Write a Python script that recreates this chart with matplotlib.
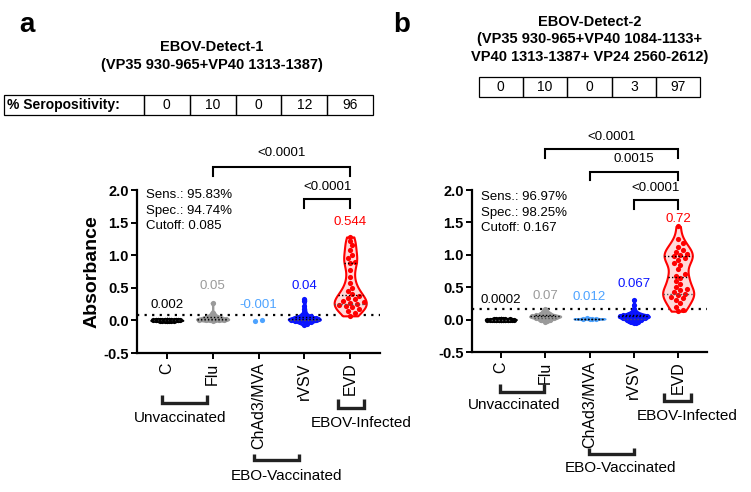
import numpy as np
import matplotlib
matplotlib.use("Agg")
import matplotlib.pyplot as plt
from matplotlib.lines import Line2D
from matplotlib.patches import Rectangle
from matplotlib.mlab import GaussianKDE

plt.rcParams['font.family'] = ['Liberation Sans', 'DejaVu Sans']

# ---------------- data ----------------
categories = ["C", "Flu", "ChAd3/MVA", "rVSV", "EVD"]
colors = ["#000000", "#9a9a9a", "#4da3ff", "#0a14ff", "#ff0000"]
fills = ["#555555", "#d0d0d0", "#bfe0ff", "#b8bcff", "#ffd9d9"]

a_C = [0.012, 0.009, 0.007, 0.006, 0.005, 0.004, 0.004, 0.003, 0.003, 0.002, 0.002, 0.002,
       0.001, 0.001, 0.001, 0.0, 0.0, 0.0, 0.0, -0.001, -0.001, -0.002, -0.002, -0.003,
       -0.004, -0.005, -0.006, -0.008, 0.003, 0.001, -0.001, 0.002, 0.0, -0.003]
a_Flu = [0.27, 0.12, 0.09, 0.07, 0.06, 0.05, 0.04, 0.03, 0.03, 0.02, 0.02, 0.01, 0.01,
         0.0, 0.0, -0.01, 0.01, 0.0, 0.02, 0.04]
a_ChAd = [-0.002, 0.0]
a_rVSV = [0.33, 0.29, 0.22, 0.17, 0.13, 0.1, 0.08, 0.07, 0.06, 0.05, 0.05, 0.04, 0.04,
          0.03, 0.03, 0.02, 0.02, 0.02, 0.01, 0.01, 0.01, 0.0, 0.0, 0.0, -0.01, -0.01,
          -0.02, -0.03, -0.05, -0.07, 0.03, 0.02, 0.01, 0.0]
a_EVD = [1.28, 1.22, 1.15, 1.08, 1.0, 0.95, 0.9, 0.88, 0.77, 0.66, 0.57, 0.5, 0.45, 0.41,
         0.38, 0.35, 0.33, 0.3, 0.28, 0.27, 0.25, 0.23, 0.22, 0.2, 0.18, 0.15, 0.12, 0.07]

b_C = [0.008, 0.006, 0.005, 0.004, 0.003, 0.003, 0.002, 0.002, 0.001, 0.001, 0.0, 0.0,
       0.0, 0.0, -0.001, -0.001, -0.002, -0.002, -0.003, -0.004, -0.005, -0.006, -0.008,
       0.002, 0.001, -0.001, 0.0, 0.004, -0.003, 0.001]
b_Flu = [0.16, 0.13, 0.11, 0.1, 0.09, 0.08, 0.07, 0.06, 0.06, 0.05, 0.05, 0.04, 0.04,
         0.03, 0.03, 0.02, 0.02, 0.01, 0.0, -0.01, -0.02, -0.03, 0.06, 0.05]
b_ChAd = [0.006, 0.01, 0.012, 0.014, 0.018]
b_rVSV = [0.31, 0.22, 0.16, 0.13, 0.11, 0.1, 0.09, 0.08, 0.08, 0.07, 0.07, 0.06, 0.06,
          0.05, 0.05, 0.05, 0.04, 0.04, 0.03, 0.03, 0.02, 0.02, 0.01, 0.01, 0.0, 0.0,
          -0.01, -0.02, -0.03, -0.04, -0.05, -0.06, 0.04, 0.05, 0.06]
b_EVD = [1.44, 1.25, 1.18, 1.12, 1.08, 1.05, 1.02, 1.0, 0.98, 0.95, 0.92, 0.88, 0.85,
         0.78, 0.7, 0.68, 0.64, 0.6, 0.55, 0.5, 0.47, 0.45, 0.42, 0.4, 0.38, 0.35, 0.33,
         0.3, 0.25, 0.2, 0.15, 0.13]

a_labels = ["0.002", "0.05", "-0.001", "0.04", "0.544"]
b_labels = ["0.0002", "0.07", "0.012", "0.067", "0.72"]
a_sero = ["0", "10", "0", "12", "96"]
b_sero = ["0", "10", "0", "3", "97"]
a_stats = ["Sens.: 95.83%", "Spec.: 94.74%", "Cutoff: 0.085"]
b_stats = ["Sens.: 96.97%", "Spec.: 98.25%", "Cutoff: 0.167"]
a_cutoff = 0.085
b_cutoff = 0.167
a_pvals = [(1, 4, "<0.0001"), (3, 4, "<0.0001")]
b_pvals = [(1, 4, "<0.0001"), (2, 4, "0.0015"), (3, 4, "<0.0001")]
a_title = ["EBOV-Detect-1", "(VP35 930-965+VP40 1313-1387)"]
b_title = ["EBOV-Detect-2", "(VP35 930-965+VP40 1084-1133+", "VP40 1313-1387+ VP24 2560-2612)"]
groups = ["Unvaccinated", "EBO-Vaccinated", "EBOV-Infected"]

# ---------------- figure ----------------
W, H = 751, 492
fig = plt.figure(figsize=(W / 100, H / 100), dpi=100)
XL = (-0.65, 4.65)
YL = (-0.5, 2.0)


def fx(x):
    return x / W


def fy(y):
    return 1 - y / H


def add_ax(l, t, r, b):
    return fig.add_axes([l / W, 1 - b / H, (r - l) / W, (b - t) / H])


def swarm(vals, pos, hwf, xs_px, ys_px, d=5.0):
    vals = np.asarray(vals, float)
    order = np.argsort(vals)
    placed = []
    xs = np.zeros(len(vals))
    cands = [0.0]
    for j in range(1, 80):
        cands += [j * d * 0.45, -j * d * 0.45]
    for i in order:
        y = vals[i] * ys_px
        maxoff = max(hwf(vals[i]) * xs_px - 1.5, 0.0)
        best, bestd = 0.0, -1
        for c in cands:
            if abs(c) > maxoff:
                continue
            md = min([np.hypot(c - px, y - py) for px, py in placed] + [99])
            if md >= d:
                best = c
                bestd = md
                break
            if md > bestd:
                best, bestd = c, md
        placed.append((best, y))
        xs[i] = pos + best / xs_px
    if len(vals) == 2:
        xs = xs - (xs.mean() - pos)
    return xs


def panel(ax, data, labels, label_y, cutoff, pvals, stats, stats_xy):
    ax.set_xlim(*XL)
    ax.set_ylim(*YL)
    bb = ax.get_position()
    xs_px = bb.width * W / (XL[1] - XL[0])
    ys_px = bb.height * H / (YL[1] - YL[0])
    ax.axhline(cutoff, color="black", ls=(0, (1, 2.4)), lw=1.6, zorder=1.5)
    width = 0.7
    for i, vals in enumerate(data):
        vals = np.asarray(vals, float)
        if len(vals) >= 3:
            bw = 0.3
            parts = ax.violinplot([vals], positions=[i], widths=width, showextrema=False,
                                  bw_method=bw)
            for body in parts['bodies']:
                body.set_facecolor(fills[i])
                body.set_edgecolor(colors[i])
                body.set_linewidth(1.5)
                body.set_alpha(1)
                body.set_zorder(2)
            kde = GaussianKDE(vals, bw)
            coords = np.linspace(vals.min(), vals.max(), 100)
            dens = kde.evaluate(coords)

            def hwf(v, coords=coords, dens=dens):
                return 0.5 * width * np.interp(v, coords, dens) / dens.max()

            for q, qc in [(25, "#555555"), (50, "#000000"), (75, "#000000")]:
                yq = np.percentile(vals, q)
                h = hwf(yq)
                ax.plot([i - h, i + h], [yq, yq], ls=(0, (1, 1.5)), color=qc, lw=1.0, zorder=4)
        else:
            def hwf(v):
                return 0.2
        xs = swarm(vals, i, hwf, xs_px, ys_px)
        ax.scatter(xs, vals, s=14, color=colors[i], zorder=3, linewidths=0)
        ax.text(i, label_y[i], labels[i], ha="center", va="center", color=colors[i], fontsize=9.5)

    for (x1, x2, txt), (ytop, ybot, yt) in pvals:
        ax.plot([x1, x1, x2, x2], [ybot, ytop, ytop, ybot], color="black", lw=1.5,
                clip_on=False, solid_joinstyle="miter")
        ax.text((x1 + x2) / 2, yt, txt, ha="center", va="center", fontsize=9.5, clip_on=False)

    for k, s in enumerate(stats):
        fig.text(fx(stats_xy[0]), fy(stats_xy[1] + k * 15.7), s, ha="left", va="center",
                 fontsize=9.5)

    for sp in ["top", "right"]:
        ax.spines[sp].set_visible(False)
    for sp in ["left", "bottom"]:
        ax.spines[sp].set_linewidth(1.6)
    ax.set_yticks([-0.5, 0.0, 0.5, 1.0, 1.5, 2.0])
    ax.set_yticklabels(["-0.5", "0.0", "0.5", "1.0", "1.5", "2.0"], fontweight="bold",
                       fontsize=10.5)
    ax.tick_params(axis="y", length=4, width=1.4, pad=2)
    ax.set_xticks(range(len(categories)))
    ax.set_xticklabels(categories, rotation=90, fontsize=11.5)
    ax.tick_params(axis="x", length=4, width=1.4, pad=3)
    ax.patch.set_visible(False)


def bracket_fig(x1, x2, ytop, ybot, lw=2.4):
    fig.add_artist(Line2D([fx(x1), fx(x1), fx(x2), fx(x2)], [fy(ytop), fy(ybot), fy(ybot), fy(ytop)],
                          transform=fig.transFigure, color="#222222", lw=lw,
                          solid_joinstyle="miter", solid_capstyle="butt"))


def table(left_px, edges_px, top, bot, values, header=None):
    lw = 0.9
    xs = [left_px] + list(edges_px)
    for k in range(len(xs) - 1):
        fig.add_artist(Rectangle((fx(xs[k]), fy(bot)), (xs[k + 1] - xs[k]) / W, (bot - top) / H,
                                 transform=fig.transFigure, fill=False, lw=lw, ec="black"))
    start = 0
    if header is not None:
        fig.text(fx(left_px + 3), fy((top + bot) / 2), header, ha="left", va="center",
                 fontweight="bold", fontsize=10)
        start = 1
    for k, v in enumerate(values):
        c = (xs[start + k] + xs[start + k + 1]) / 2
        fig.text(fx(c), fy((top + bot) / 2), v, ha="center", va="center", fontsize=10)


# Panel a
ax_a = add_ax(137, 190, 380, 353)
panel(ax_a, [a_C, a_Flu, a_ChAd, a_rVSV, a_EVD], a_labels, [0.24, 0.52, 0.24, 0.52, 1.51],
      a_cutoff,
      [(a_pvals[0], (2.36, 2.22, 2.56)), (a_pvals[1], (1.865, 1.726, 2.05))],
      a_stats, (146, 195))
ax_a.set_ylabel("Absorbance", fontweight="bold", fontsize=14)
ax_a.yaxis.set_label_coords(-0.15, 0.5)

# Panel b
ax_b = add_ax(472, 190, 707, 352)
panel(ax_b, [b_C, b_Flu, b_ChAd, b_rVSV, b_EVD], b_labels, [0.30, 0.37, 0.35, 0.55, 1.56],
      b_cutoff,
      [(b_pvals[0], (2.64, 2.50, 2.825)), (b_pvals[1], (2.28, 2.16, 2.48)),
       (b_pvals[2], (1.85, 1.71, 2.035))],
      b_stats, (481, 197))

# panel letters
fig.text(fx(27), fy(25), "a", fontsize=20, fontweight="bold", ha="center", va="center")
fig.text(fx(402), fy(25), "b", fontsize=20, fontweight="bold", ha="center", va="center")

# titles
for k, t in enumerate(a_title):
    fig.text(fx(212), fy(47 + 18 * k), t, ha="center", va="center", fontweight="bold", fontsize=10.5)
for k, t in enumerate(b_title):
    fig.text(fx(590), fy(22 + 17.5 * k), t, ha="center", va="center", fontweight="bold", fontsize=10.5)

# tables
ua = 243 / 5.3
edges_a = [137 + (i - 0.5 - XL[0]) * ua for i in range(6)]
table(4, edges_a, 95, 115, a_sero, header="% Seropositivity:")
ub = 235 / 5.3
edges_b = [472 + (i - 0.5 - XL[0]) * ub for i in range(6)]
table(edges_b[0], edges_b[1:], 77, 97, b_sero)

# group brackets (panel a)
bracket_fig(162, 207, 395, 403)
bracket_fig(254, 299, 454, 460)
bracket_fig(338, 364, 399, 408)
fig.text(fx(180), fy(418), groups[0], ha="center", va="center", fontsize=11)
fig.text(fx(287), fy(476), groups[1], ha="center", va="center", fontsize=11)
fig.text(fx(361), fy(423), groups[2], ha="center", va="center", fontsize=11)
# group brackets (panel b)
bracket_fig(500, 544, 384, 392)
bracket_fig(589, 634, 448, 454)
bracket_fig(664, 691, 393, 401)
fig.text(fx(514), fy(405), groups[0], ha="center", va="center", fontsize=11)
fig.text(fx(621), fy(468), groups[1], ha="center", va="center", fontsize=11)
fig.text(fx(687), fy(416), groups[2], ha="center", va="center", fontsize=11)

fig.savefig("out.png", dpi=100)
